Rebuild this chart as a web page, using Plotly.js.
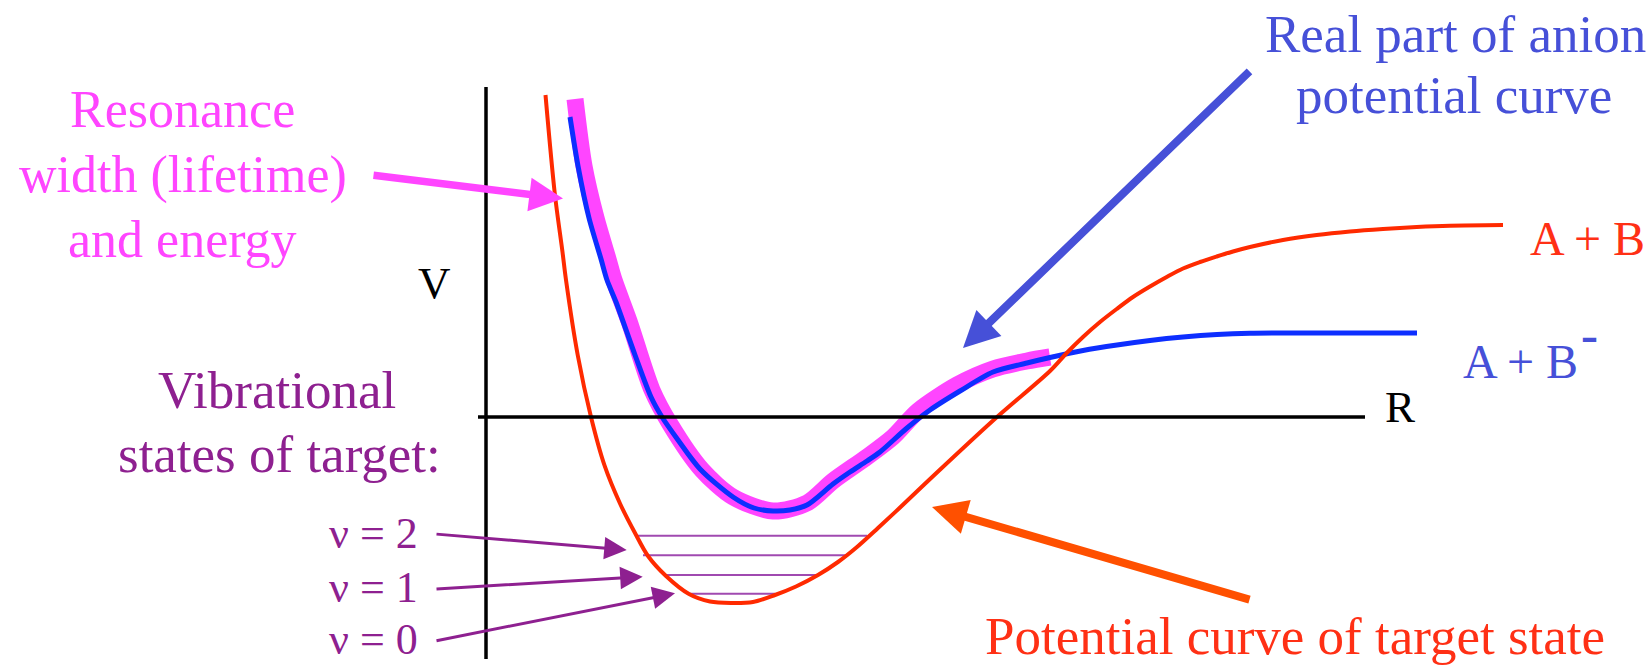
<!DOCTYPE html>
<html>
<head>
<meta charset="utf-8">
<script src="https://cdn.plot.ly/plotly-3.0.1.min.js"></script>
<style>html,body{margin:0;padding:0;background:#fff;}#chart{width:1651px;height:666px;}</style>
</head>
<body>
<div id="chart"></div>
<script>
// Potential curve of the target state (R, V)
const targetR = [59.5, 68.8, 76.5, 80, 91.8, 105, 118.6, 134, 149, 162, 180, 203, 224, 245, 267, 289, 310, 332, 352, 371, 392, 413, 451.5, 511, 564, 580.7, 597, 614, 630.7, 647, 664, 680.7, 697, 714, 730.7, 747, 764, 797, 830.7, 864, 897, 930.7, 964, 1017];
const targetV = [322, 223.4, 165, 137, 61.5, 0, -48.7, -86.5, -116, -139, -159, -177, -184.5, -186, -185, -178, -169.5, -158, -145, -130, -111, -91.5, -55, 0, 46, 64, 80, 95, 108, 120, 130.5, 140, 148.5, 155, 160.5, 165.5, 170, 177, 182, 185.5, 188, 190, 191.3, 192];

// Real part of anion potential curve
const anionR = [84, 92, 103, 115, 121, 130, 149, 165, 176, 192, 214, 247, 268, 287, 304, 321, 347, 364, 381, 394, 421, 444, 474, 507, 541, 564, 597, 631, 664, 697, 731, 764, 831, 931];
const anionV = [300, 251, 199, 158, 137, 115, 62, 20, 0, -23, -52, -80, -91, -94, -93, -88, -67, -55, -44, -35, -11, 7, 26, 45, 54, 59.5, 66.5, 72, 76.5, 80, 82.5, 83.7, 84, 84];

// Resonance width band (centre line)
const widthR = [89, 98, 110, 122, 128, 143, 166, 184, 216, 247, 287, 321, 347, 381, 407, 432, 471, 507, 541, 564];
const widthV = [318, 251, 199, 158, 137, 96, 27, -7, -53, -80, -94, -86, -64, -40, -20, 6, 32, 48, 56, 60];

// Vibrational levels of target
const vibLevelV = [-176.7, -158, -138.3, -118.7];
const vibLeftR  = [204, 179, 157, 152];
const vibRightR = [289, 332, 361, 381];

// Axes extents
const axisVRange = [-242, 330];
const axisRRange = [-8, 879];

// Texts
const txtResonance = ['Resonance', 'width (lifetime)', 'and energy'];
const txtAnion = ['Real part of anion', 'potential curve'];
const txtVib = ['Vibrational', 'states of target:'];
const txtNu = ['ν = 2', 'ν = 1', 'ν = 0'];
const txtTarget = 'Potential curve of target state';
const txtAB = 'A + B';
const txtABminus = 'A + B';
const txtMinus = '–';
const txtV = 'V';
const txtRR = 'R';

const SERIF = "'Liberation Serif', 'Times New Roman', Tinos, 'DejaVu Serif Condensed', 'DejaVu Serif', serif";
const MAG = '#ff45ff', BLUE = '#0d2eff', BLUET = '#4650d8', RED = '#ff2a00', REDT = '#ff3015', ORANGE = '#ff5000', PURP = '#8e2090', PURPL = '#a04ab0';

const traces = [];
for (let i = 0; i < vibLevelV.length; i++) {
  traces.push({x: [vibLeftR[i], vibRightR[i]], y: [vibLevelV[i], vibLevelV[i]], mode: 'lines',
    line: {color: PURPL, width: 2}, hoverinfo: 'skip'});
}
traces.push({x: widthR, y: widthV, mode: 'lines', line: {color: MAG, width: 17, shape: 'spline', smoothing: 0.8}, hoverinfo: 'skip'});
traces.push({x: anionR, y: anionV, mode: 'lines', line: {color: BLUE, width: 5, shape: 'spline', smoothing: 0.8}, hoverinfo: 'skip'});
traces.push({x: targetR, y: targetV, mode: 'lines', line: {color: RED, width: 4, shape: 'spline', smoothing: 0.9}, hoverinfo: 'skip'});

function txt(t, x, y, size, color, xanchor) {
  return {text: t, x: x, y: y, xref: 'x', yref: 'y', showarrow: false, xanchor: xanchor || 'center', yanchor: 'middle',
    font: {family: SERIF, size: size, color: color}};
}
function arrow(ax, ay, x, y, color, w, s) {
  return {text: ' ', x: x, y: y, ax: ax, ay: ay, xref: 'x', yref: 'y', axref: 'x', ayref: 'y', showarrow: true,
    arrowhead: 2, arrowwidth: w, arrowsize: s, arrowcolor: color, standoff: 0, startstandoff: 0, font: {size: 1}};
}

const annotations = [
  txt(txtResonance[0], -304, 307.5, 52, MAG),
  txt(txtResonance[1], -303.5, 242.5, 52, MAG),
  txt(txtResonance[2], -303.5, 177.5, 52, MAG),
  txt(txtAnion[0], 969, 383, 53, BLUET),
  txt(txtAnion[1], 968, 322, 53, BLUET),
  txt(txtV, -52, 134, 45, '#000'),
  txt(txtRR, 913.5, 10, 45, '#000'),
  txt(txtAB, 1101.5, 179, 48, REDT),
  txt(txtABminus, 1034, 56, 48, BLUET),
  {text: '<b>' + txtMinus + '</b>', x: 1103.5, y: 80.5, xref: 'x', yref: 'y', showarrow: false, xanchor: 'center', yanchor: 'middle',
    font: {family: 'DejaVu Sans', size: 34, color: BLUET}},
  txt(txtVib[0], -209.5, 27, 53, PURP),
  txt(txtVib[1], -207, -37, 53, PURP),
  txt(txtNu[0], -66, -116.8, 44, PURP, 'right'),
  txt(txtNu[1], -66, -170, 44, PURP, 'right'),
  txt(txtNu[2], -66, -222, 44, PURP, 'right'),
  txt(txtTarget, 809, -219, 53, REDT),
  arrow(-114, 242, 77, 218.5, MAG, 7.5, 0.9),
  arrow(765, 347, 477, 69, BLUET, 8, 0.9),
  arrow(765, -183, 446, -90, ORANGE, 8, 0.88),
  arrow(-51, -117, 140.7, -133, PURP, 3, 1.5),
  arrow(-51, -172, 156.7, -159.7, PURP, 3, 1.5),
  arrow(-51, -224, 189, -176.3, PURP, 3, 1.5)
];

const shapes = [
  {type: 'line', xref: 'x', yref: 'y', x0: 0, x1: 0, y0: axisVRange[0], y1: axisVRange[1], line: {color: '#000', width: 3.5}},
  {type: 'line', xref: 'x', yref: 'y', x0: axisRRange[0], x1: axisRRange[1], y0: 0, y1: 0, line: {color: '#000', width: 3.5}}
];

const layout = {
  width: 1651, height: 666,
  margin: {l: 0, r: 0, t: 0, b: 0, pad: 0},
  paper_bgcolor: '#ffffff', plot_bgcolor: '#ffffff',
  showlegend: false,
  font: {family: SERIF},
  xaxis: {range: [-486, 1165], visible: false, fixedrange: true},
  yaxis: {range: [-249, 417], visible: false, fixedrange: true},
  annotations: annotations,
  shapes: shapes
};

Plotly.newPlot('chart', traces, layout, {staticPlot: true, displayModeBar: false});
</script>
</body>
</html>
